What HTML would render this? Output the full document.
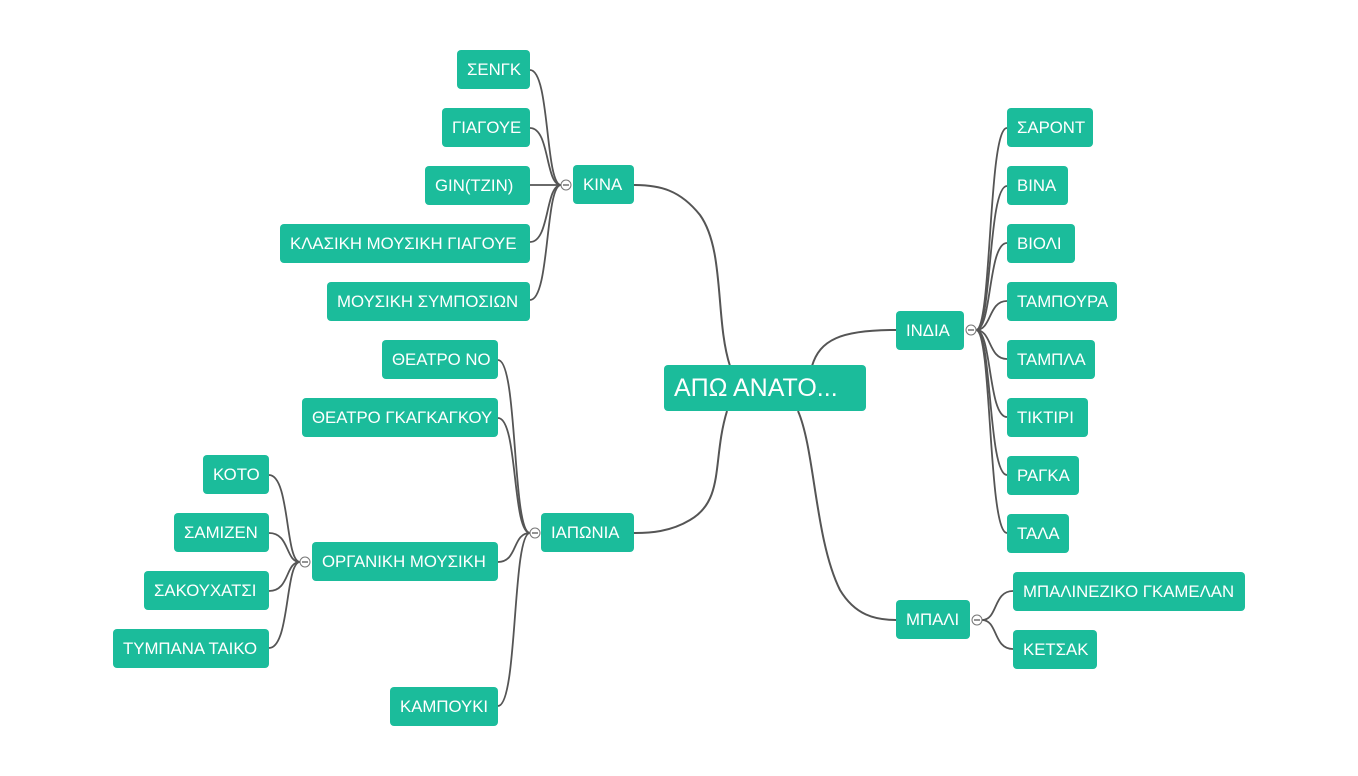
<!DOCTYPE html>
<html><head><meta charset="utf-8"><style>
body{margin:0;width:1358px;height:776px;background:#fff;position:relative;overflow:hidden;font-family:"Liberation Sans","DejaVu Sans",sans-serif}
.n{position:absolute;height:39px;background:#1bbc9b;color:#fff;border-radius:4px;font-size:16.8px;line-height:39px;text-align:left;padding-left:10px;box-sizing:border-box;white-space:nowrap;overflow:hidden}
svg{position:absolute;left:0;top:0}
</style></head><body>
<svg width="1358" height="776" fill="none" stroke="#555" stroke-width="2">
<path d="M730 366 C715 320 725 250 700 215 C680 190 660 185 634 185"/>
<path d="M727 411 C712 460 725 500 690 520 C670 532 650 533 634 533"/>
<path d="M812 366 C820 340 840 330 896 330"/>
<path d="M798 411 C815 450 815 540 840 590 C855 615 875 620 896 620"/>
<g stroke-width="1.8">
<path d="M561 185 C545 185 550 70 530 70"/>
<path d="M561 185 C545 185 550 128 530 128"/>
<path d="M561 185 L530 185"/>
<path d="M561 185 C545 185 550 242 530 242"/>
<path d="M561 185 C545 185 550 300 530 300"/>
<path d="M530 533 C512 533 518 360 498 360"/>
<path d="M530 533 C512 533 518 418 498 418"/>
<path d="M530 533 C512 533 518 562 498 562"/>
<path d="M530 533 C512 533 518 706 498 706"/>
<path d="M300 562 C285 562 290 475 269 475"/>
<path d="M300 562 C285 562 290 533 269 533"/>
<path d="M300 562 C285 562 290 591 269 591"/>
<path d="M300 562 C285 562 290 648 269 648"/>
<path d="M976 330 C992 330 988 128 1007 128"/>
<path d="M976 330 C992 330 988 186 1007 186"/>
<path d="M976 330 C992 330 988 243 1007 243"/>
<path d="M976 330 C992 330 988 301 1007 301"/>
<path d="M976 330 C992 330 988 359 1007 359"/>
<path d="M976 330 C992 330 988 417 1007 417"/>
<path d="M976 330 C992 330 988 475 1007 475"/>
<path d="M976 330 C992 330 988 533 1007 533"/>
<path d="M982 620 C998 620 993 591 1013 591"/>
<path d="M982 620 C998 620 993 649 1013 649"/>
</g>
<g stroke="#777" stroke-width="1" fill="#fff">
<circle cx="566" cy="185" r="5"/><circle cx="971" cy="330" r="5"/><circle cx="977" cy="620" r="5"/><circle cx="535" cy="533" r="5"/><circle cx="305" cy="562" r="5"/>
</g>
<g stroke="#555" stroke-width="1.2">
<path d="M563 185h6M968 330h6M974 620h6M532 533h6M302 562h6"/>
</g>
</svg>
<div class="n" style="left:664px;top:365px;width:202px;height:46px;line-height:46px;font-size:25px">ΑΠΩ ΑΝΑΤΟ...</div>
<div class="n" style="left:573px;top:165px;width:61px">ΚΙΝΑ</div>
<div class="n" style="left:457px;top:50px;width:73px">ΣΕΝΓΚ</div>
<div class="n" style="left:442px;top:108px;width:88px">ΓΙΑΓΟΥΕ</div>
<div class="n" style="left:425px;top:166px;width:105px">GIN(TZIN)</div>
<div class="n" style="left:280px;top:224px;width:250px">ΚΛΑΣΙΚΗ ΜΟΥΣΙΚΗ ΓΙΑΓΟΥΕ</div>
<div class="n" style="left:327px;top:282px;width:203px">ΜΟΥΣΙΚΗ ΣΥΜΠΟΣΙΩΝ</div>
<div class="n" style="left:382px;top:340px;width:116px">ΘΕΑΤΡΟ ΝΟ</div>
<div class="n" style="left:302px;top:398px;width:196px">ΘΕΑΤΡΟ ΓΚΑΓΚΑΓΚΟΥ</div>
<div class="n" style="left:541px;top:513px;width:93px">ΙΑΠΩΝΙΑ</div>
<div class="n" style="left:312px;top:542px;width:186px">ΟΡΓΑΝΙΚΗ ΜΟΥΣΙΚΗ</div>
<div class="n" style="left:203px;top:455px;width:66px">ΚΟΤΟ</div>
<div class="n" style="left:174px;top:513px;width:95px">ΣΑΜΙΖΕΝ</div>
<div class="n" style="left:144px;top:571px;width:125px">ΣΑΚΟΥΧΑΤΣΙ</div>
<div class="n" style="left:113px;top:629px;width:156px">ΤΥΜΠΑΝΑ ΤΑΙΚΟ</div>
<div class="n" style="left:390px;top:687px;width:108px">ΚΑΜΠΟΥΚΙ</div>
<div class="n" style="left:896px;top:311px;width:68px">ΙΝΔΙΑ</div>
<div class="n" style="left:1007px;top:108px;width:86px">ΣΑΡΟΝΤ</div>
<div class="n" style="left:1007px;top:166px;width:61px">ΒΙΝΑ</div>
<div class="n" style="left:1007px;top:224px;width:68px">ΒΙΟΛΙ</div>
<div class="n" style="left:1007px;top:282px;width:110px">ΤΑΜΠΟΥΡΑ</div>
<div class="n" style="left:1007px;top:340px;width:88px">ΤΑΜΠΛΑ</div>
<div class="n" style="left:1007px;top:398px;width:81px">ΤΙΚΤΙΡΙ</div>
<div class="n" style="left:1007px;top:456px;width:72px">ΡΑΓΚΑ</div>
<div class="n" style="left:1007px;top:514px;width:62px">ΤΑΛΑ</div>
<div class="n" style="left:896px;top:600px;width:74px">ΜΠΑΛΙ</div>
<div class="n" style="left:1013px;top:572px;width:232px">ΜΠΑΛΙΝΕΖΙΚΟ ΓΚΑΜΕΛΑΝ</div>
<div class="n" style="left:1013px;top:630px;width:84px">ΚΕΤΣΑΚ</div>
</body></html>
